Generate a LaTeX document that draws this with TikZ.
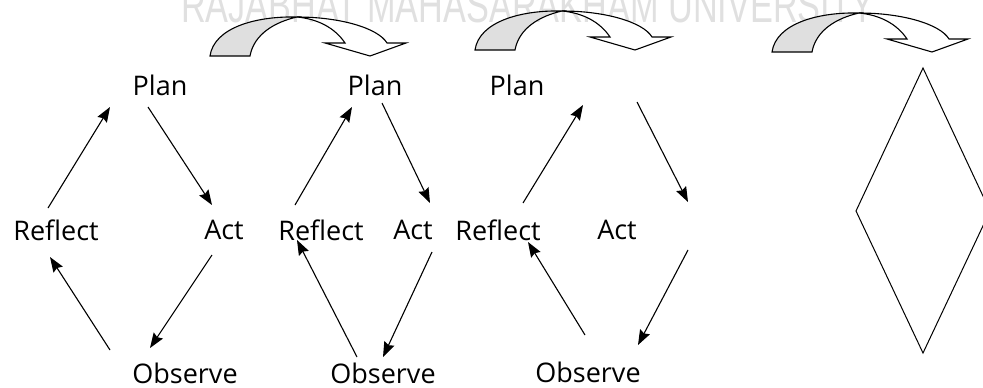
\documentclass[tikz,border=0pt]{standalone}
\usepackage{fontspec}
\usepackage{graphicx}
\usetikzlibrary{arrows.meta,calc}
\newfontfamily\cyclefont{Open Sans}
\newfontfamily\markfont{Liberation Sans}

\begin{document}
\begin{tikzpicture}[x=1pt, y=-1pt,
    stage/.style={font=\cyclefont\fontsize{27}{30}\selectfont, inner sep=0pt},
    flow/.style={-{Stealth[length=15pt,width=11pt,inset=2pt]}, line width=1.1pt},
    pics/turnarrow/.style={code={
        \draw[line width=1.1pt, fill=gray!25] (0,0) .. controls (4,-28) and (45,-40) .. (87,-39)
            .. controls (65,-34) and (44,-22) .. (40,0) -- cycle;
        \draw[line width=1.1pt, fill=white] (87,-39) .. controls (130,-39) and (168,-28) .. (177,-13)
            -- (196,-13) -- (160,0) -- (115,-13) -- (135,-13)
            .. controls (125,-28) and (108,-37) .. (87,-39) -- cycle;
    }}]
    \useasboundingbox (0,0) rectangle (983,388);
    % watermark
    \node[anchor=base west, inner sep=0pt, text=black!12] (mark) at (181,22)
        {\resizebox{693pt}{34pt}{\markfont RAJABHAT MAHASARAKHAM UNIVERSITY}};
    % curved arrows
    \pic at (210,56) {turnarrow};
    \pic at (475,50) {turnarrow};
    \pic at (772,52) {turnarrow};
    % cycle 1
    \node[stage] (plan1) at (160,85) {Plan};
    \node[stage] (act1) at (224,230) {Act};
    \node[stage] (reflect1) at (56,230) {Reflect};
    \node[stage] (observe1) at (185,373) {Observe};
    \draw[flow] ($(reflect1)+(-8,-22)$) -- ($(plan1)+(-50,22)$);
    \draw[flow] ($(plan1)+(-12,22)$) -- ($(act1)+(-12,-25)$);
    \draw[flow] ($(act1)+(-12,25)$) -- ($(observe1)+(-35,-25)$);
    \draw[flow] ($(observe1)+(-75,-23)$) -- ($(reflect1)+(-6,27)$);
    % cycle 2
    \node[stage] (plan2) at (375,85) {Plan};
    \node[stage] (act2) at (413,230) {Act};
    \node[stage] (reflect2) at (321,230) {Reflect};
    \node[stage] (observe2) at (383,373) {Observe};
    \draw[flow] ($(reflect2)+(-26,-25)$) -- ($(plan2)+(-23,22)$);
    \draw[flow] ($(plan2)+(7,18)$) -- ($(act2)+(17,-27)$);
    \draw[flow] ($(act2)+(19,22)$) -- ($(observe2)+(0,-16)$);
    \draw[flow] ($(observe2)+(-26,-16)$) -- ($(reflect2)+(-24,10)$);
    % cycle 3
    \node[stage] (plan3) at (517,85) {Plan};
    \node[stage] (act3) at (617,230) {Act};
    \node[stage] (reflect3) at (498,230) {Reflect};
    \node[stage] (observe3) at (588,372) {Observe};
    \draw[flow] ($(reflect3)+(25,-27)$) -- ($(plan3)+(66,20)$);
    \draw[flow] ($(plan3)+(120,17)$) -- ($(act3)+(71,-28)$);
    \draw[flow] ($(act3)+(71,20)$) -- ($(observe3)+(50,-27)$);
    \draw[flow] ($(observe3)+(-3,-37)$) -- ($(reflect3)+(30,12)$);
    % empty diamond
    \draw[line width=1pt] (923,68) -- (856,211) -- (923,353) -- (990,211) -- cycle;
\end{tikzpicture}
\end{document}
